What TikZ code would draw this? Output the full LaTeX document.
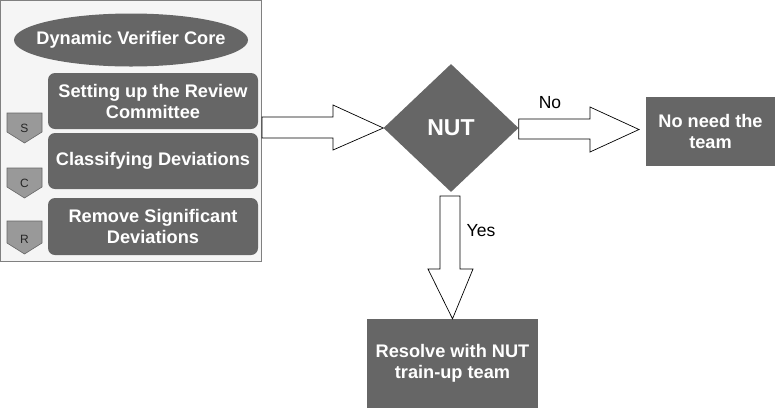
\documentclass[tikz,border=0pt]{standalone}
\usepackage{fontspec}
\setmainfont{Liberation Sans}
\usetikzlibrary{shapes.geometric,calc}
\definecolor{dk}{HTML}{666666}
\definecolor{chev}{HTML}{999999}
\definecolor{panelfill}{HTML}{F5F5F5}
\definecolor{panelline}{HTML}{808080}
\tikzset{
  panelbox/.style={draw=panelline, fill=panelfill, line width=0.8pt, inner sep=0pt},
  darkbox/.style={fill=dk, text=white, font=\fontsize{18.2}{21}\selectfont\bfseries, align=center, inner sep=0pt},
  whitetext/.style={text=white, font=\fontsize{18.2}{21}\selectfont\bfseries, align=center, inner sep=0pt},
  stepbox/.style={darkbox, rounded corners=7pt},
  chevshape/.style={draw=dk, fill=chev, line width=0.6pt},
  chevtext/.style={font=\fontsize{12}{14}\selectfont, text=black!85, inner sep=0pt},
  blockarrow/.style={draw=black, fill=white, line width=0.7pt, line join=miter},
  lbl/.style={font=\fontsize{17.5}{20}\selectfont, inner sep=0pt}
}
\begin{document}
\begin{tikzpicture}[x=1pt,y=-1pt]
\useasboundingbox[fill=white] (0,0) rectangle (776,408);
% left panel
\node[panelbox, minimum width=261pt, minimum height=261pt] (panel) at (131,131) {};
\node[fill=dk, ellipse, inner sep=0pt, minimum width=234pt, minimum height=53pt] (core) at (131,40) {};
\node[whitetext] (coretext) at (core.center) {Dynamic Verifier Core};
\node[stepbox, minimum width=210pt, minimum height=56pt] (s1) at (153,101) {Setting up the Review\\Committee};
\node[stepbox, minimum width=210pt, minimum height=56pt] (s2) at (153,161) {Classifying Deviations};
\node[stepbox, minimum width=210pt, minimum height=57pt] (s3) at (153,226.5) {Remove Significant\\Deviations};
% chevrons
\foreach \t/\top/\sh/\tip/\ly in {S/113/132/143/128, C/168/187/198/183.5, R/221/243/254/239}{
  \draw[chevshape] (7,\top) -- (42,\top) -- (42,\sh) -- (24.5,\tip) -- (7,\sh) -- cycle;
  \node[chevtext] at (24.5,\ly) {\t};
}
% decision
\node[darkbox, diamond, aspect=1.05, minimum width=135pt, minimum height=128pt, font=\fontsize{23}{26}\selectfont\bfseries] (nut) at (451,128) {NUT};
\node[darkbox, minimum width=129pt, minimum height=69pt] (noneed) at (710.5,131.5) {No need the\\team};
\node[darkbox, minimum width=171pt, minimum height=89pt] (resolve) at (452.5,363.5) {Resolve with NUT\\train-up team};
% block arrow panel -> nut
\draw[blockarrow] (panel.east |- 0,117) -- (333,117) -- (333,105) -- (nut.west) -- (333,150) -- (333,138) -- (panel.east |- 0,138) -- cycle;
% block arrow nut -> no need
\draw[blockarrow] (nut.east |- 0,119) -- (590,119) -- (590,107) -- (639,129.5) -- (590,152) -- (590,139) -- (nut.east |- 0,139) -- cycle;
% block arrow nut -> resolve
\draw[blockarrow] (440,196) -- (440,269) -- (428,269) -- (resolve.north) -- (473,269) -- (460,269) -- (460,196) -- cycle;
\node[lbl] (no) at (550,103) {No};
\node[lbl] (yes) at (481,231) {Yes};
\end{tikzpicture}
\end{document}
